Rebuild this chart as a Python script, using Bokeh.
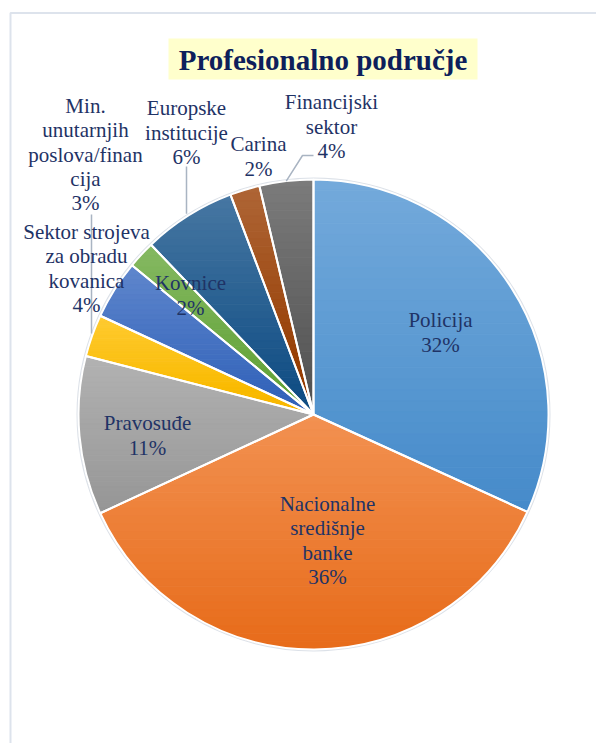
import numpy as np
from bokeh.plotting import figure
from bokeh.models import Range1d, ColumnDataSource
from bokeh.core.properties import value
from bokeh.embed import file_html
from bokeh.resources import INLINE

# ---- data ----
title = "Profesionalno područje"
categories = ["Policija", "Nacionalne\nsredišnje\nbanke", "Pravosuđe",
              "Min.\nunutarnjih\nposlova/finan\ncija",
              "Sektor strojeva\nza obradu\nkovanica", "Kovnice",
              "Europske\ninstitucije", "Carina", "Financijski\nsektor"]
shares = [31.8, 36.3, 10.9, 2.9, 4.05, 1.9, 6.4, 2.05, 3.7]
colors = ["#5B9BD5", "#F07E33", "#A5A5A5", "#FFC20E", "#4472C4",
          "#70AD47", "#265F92", "#A04B13", "#646464"]

# ---- layout (page pixels) ----
W, H = 596, 743
def px(x): return x
def py(y): return H - y

CX, CY, R = px(313), py(414), 235
label_pos = [(440, 332), (327, 540), (147, 435), (85, 154), (86, 268),
             (190, 295), (186, 132), (258, 156), (331, 126)]
LINE_H = 24.4
SERIF = value("Times New Roman, Liberation Serif, serif")

vals = np.array(shares, dtype=float)
frac = vals / vals.sum()
cum = np.concatenate([[0], np.cumsum(frac)])
start = np.pi / 2 - cum[:-1] * 2 * np.pi
end = np.pi / 2 - cum[1:] * 2 * np.pi
mid = (start + end) / 2

p = figure(width=W, height=H, x_range=Range1d(0, W), y_range=Range1d(0, H),
           output_backend="svg", toolbar_location=None, min_border=0,
           x_axis_type=None, y_axis_type=None)
p.grid.visible = False
p.outline_line_color = None
p.background_fill_color = "white"
p.border_fill_color = "white"

# outer frame
p.line(x=[px(10), px(10), px(620)], y=[py(760), py(12.5), py(12.5)],
       line_color="#dde3ec", line_width=2)

# title box
p.quad(left=px(168), right=px(477), top=py(38), bottom=py(79),
       fill_color="#FFFFCC", line_color=None)
p.text(x=[px(322.5)], y=[py(59)], text=[title], text_align="center",
       text_baseline="middle", text_font=SERIF,
       text_font_style="bold", text_font_size="29px", text_color="#0E1F5B")

# pie edge
p.circle(x=[CX], y=[CY], radius=R + 1, fill_color=None,
         line_color="#DCE1E8", line_width=2)

# gradient-filled slices (bands clipped to each slice)
def hex2rgb(h):
    h = h.lstrip("#")
    return np.array([int(h[k:k + 2], 16) for k in (0, 2, 4)], dtype=float)

def rgb2hex(c):
    c = np.clip(np.round(c), 0, 255).astype(int)
    return "#%02x%02x%02x" % tuple(c)

def clip_half(poly, yv, keep_above):
    out = []
    n = len(poly)
    for k in range(n):
        a = poly[k]; b = poly[(k + 1) % n]
        ina = a[1] >= yv if keep_above else a[1] <= yv
        inb = b[1] >= yv if keep_above else b[1] <= yv
        if ina:
            out.append(a)
        if ina != inb:
            t = (yv - a[1]) / (b[1] - a[1])
            out.append((a[0] + t * (b[0] - a[0]), yv))
    return out

bx, by, bc = [], [], []
NB = 30
for i in range(len(vals)):
    angs = np.linspace(start[i], end[i], max(8, int(abs(end[i] - start[i]) * 80)))
    poly = [(CX, CY)] + [(CX + R * np.cos(a), CY + R * np.sin(a)) for a in angs]
    ys = [q[1] for q in poly]
    ymin, ymax = min(ys), max(ys)
    base = hex2rgb(colors[i])
    top = base + (255 - base) * 0.15
    bot = (base - (255 - base) * 0.12) * 0.97
    edges = np.linspace(ymax, ymin, NB + 1)
    for k in range(NB):
        hi, lo = edges[k] + 0.4, edges[k + 1]
        piece = clip_half(clip_half(poly, hi, False), lo, True)
        if len(piece) < 3:
            continue
        t = (k + 0.5) / NB
        bx.append([q[0] for q in piece])
        by.append([q[1] for q in piece])
        bc.append(rgb2hex(top * (1 - t) + bot * t))

p.patches(xs=bx, ys=by, fill_color=bc, line_color=bc, line_width=0.6)

src = ColumnDataSource(dict(start=start, end=end))
p.wedge(x=CX, y=CY, radius=R, start_angle="start", end_angle="end",
        direction="clock", fill_color=None, line_color="white",
        line_width=2, source=src)

# leader lines
def arc_pt(i, r=R):
    return CX + r * np.cos(mid[i]), CY + r * np.sin(mid[i])

lc = "#A9B4C2"
x0, y0 = arc_pt(8)
p.line(x=[x0, px(302), px(313)], y=[y0, py(155), py(155)], line_color=lc, line_width=1.5)
x0, y0 = arc_pt(6)
p.line(x=[px(186), px(186)], y=[y0 + 2, py(166)], line_color=lc, line_width=1.5)
x0, y0 = arc_pt(3)
p.line(x=[px(91), px(91)], y=[y0 + 2, py(214)], line_color=lc, line_width=1.5)

# labels: one text item per line
lx, ly, lt = [], [], []
for (ax, ay), c, v in zip(label_pos, categories, vals):
    lines = c.split("\n") + [f"{round(v)}%"]
    n = len(lines)
    for k, s in enumerate(lines):
        lx.append(px(ax))
        ly.append(py(ay + (k - (n - 1) / 2) * LINE_H))
        lt.append(s)
lsrc = ColumnDataSource(dict(x=lx, y=ly, text=lt))
p.text(x="x", y="y", text="text", source=lsrc, text_align="center",
       text_baseline="middle", text_font=SERIF,
       text_font_size="21px", text_color="#1F3366")

open("out.html", "w").write(file_html(p, INLINE))
